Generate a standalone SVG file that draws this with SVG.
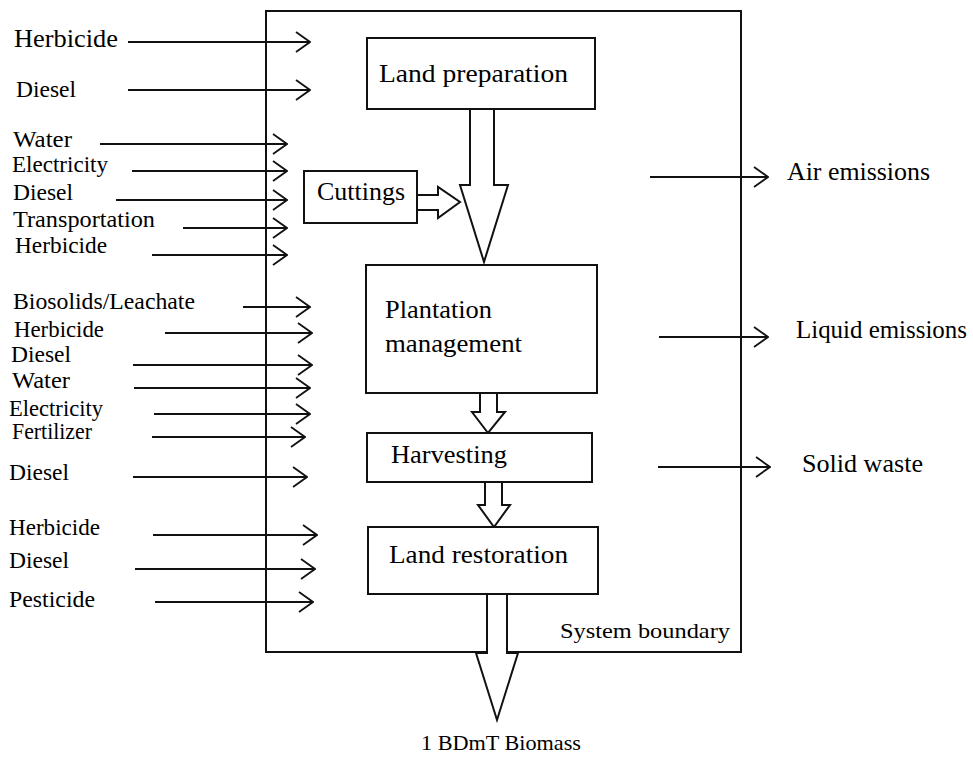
<svg xmlns="http://www.w3.org/2000/svg" width="973" height="757" viewBox="0 0 973 757">
<style>
text{font-family:"Liberation Serif","Times New Roman",serif;fill:#000}
.lbl{font-size:23px}
.box{fill:#fff;stroke:#111;stroke-width:2}
.big{fill:#fff;stroke:#111;stroke-width:2;stroke-linejoin:miter}
.ln{stroke:#111;stroke-width:2;fill:none;marker-end:url(#chev)}
.bt{font-size:26px}
.out{font-size:25px}
</style>
<defs>
<marker id="chev" viewBox="0 0 16 22" refX="15" refY="11" markerWidth="16" markerHeight="22" markerUnits="userSpaceOnUse" orient="auto">
<path d="M1,1 L15,11 L1,21" fill="none" stroke="#111" stroke-width="1.8"/>
</marker>
</defs>
<rect width="973" height="757" fill="#fff"/>
<g id="system-boundary">
<rect x="266" y="11" width="475" height="641" fill="none" stroke="#111" stroke-width="2"/>
<text x="560" y="638" font-size="22" textLength="170" lengthAdjust="spacingAndGlyphs">System boundary</text>
</g>
<g id="inputs">
<text class="lbl" x="14" y="47" font-size="25" style="font-size:25px" textLength="104" lengthAdjust="spacingAndGlyphs">Herbicide</text>
<text class="lbl" x="16" y="97" textLength="60" lengthAdjust="spacingAndGlyphs">Diesel</text>
<text class="lbl" x="13" y="147" textLength="59" lengthAdjust="spacingAndGlyphs">Water</text>
<text class="lbl" x="12" y="172" textLength="96" lengthAdjust="spacingAndGlyphs">Electricity</text>
<text class="lbl" x="13" y="200" textLength="60" lengthAdjust="spacingAndGlyphs">Diesel</text>
<text class="lbl" x="13" y="227" textLength="142" lengthAdjust="spacingAndGlyphs">Transportation</text>
<text class="lbl" x="15" y="253" textLength="92" lengthAdjust="spacingAndGlyphs">Herbicide</text>
<text class="lbl" x="13" y="309" textLength="182" lengthAdjust="spacingAndGlyphs">Biosolids/Leachate</text>
<text class="lbl" x="14" y="337" textLength="90" lengthAdjust="spacingAndGlyphs">Herbicide</text>
<text class="lbl" x="11" y="362" textLength="60" lengthAdjust="spacingAndGlyphs">Diesel</text>
<text class="lbl" x="12" y="388" textLength="58" lengthAdjust="spacingAndGlyphs">Water</text>
<text class="lbl" x="9" y="416" textLength="94" lengthAdjust="spacingAndGlyphs">Electricity</text>
<text class="lbl" x="12" y="439" textLength="80" lengthAdjust="spacingAndGlyphs">Fertilizer</text>
<text class="lbl" x="9" y="480" textLength="60" lengthAdjust="spacingAndGlyphs">Diesel</text>
<text class="lbl" x="9" y="535" textLength="91" lengthAdjust="spacingAndGlyphs">Herbicide</text>
<text class="lbl" x="9" y="568" textLength="60" lengthAdjust="spacingAndGlyphs">Diesel</text>
<text class="lbl" x="9" y="607" textLength="86" lengthAdjust="spacingAndGlyphs">Pesticide</text>
</g>
<g id="outputs">
<text class="out" x="787" y="180" textLength="143" lengthAdjust="spacingAndGlyphs">Air emissions</text>
<text class="out" x="796" y="338" textLength="171" lengthAdjust="spacingAndGlyphs">Liquid emissions</text>
<text class="out" x="802" y="472" textLength="121" lengthAdjust="spacingAndGlyphs">Solid waste</text>
<text x="421" y="750" font-size="22" textLength="160" lengthAdjust="spacingAndGlyphs">1 BDmT Biomass</text>
</g>
<g id="connectors">
<line class="ln" x1="128" y1="42" x2="310" y2="42"/>
<line class="ln" x1="128" y1="90" x2="310" y2="90"/>
<line class="ln" x1="100" y1="144" x2="287" y2="144"/>
<line class="ln" x1="132" y1="171" x2="287" y2="171"/>
<line class="ln" x1="116" y1="200" x2="287" y2="200"/>
<line class="ln" x1="183" y1="228" x2="287" y2="228"/>
<line class="ln" x1="152" y1="255" x2="287" y2="255"/>
<line class="ln" x1="243" y1="307" x2="310" y2="307"/>
<line class="ln" x1="165" y1="333" x2="312" y2="333"/>
<line class="ln" x1="133" y1="365" x2="312" y2="365"/>
<line class="ln" x1="134" y1="388" x2="310" y2="388"/>
<line class="ln" x1="154" y1="414" x2="310" y2="414"/>
<line class="ln" x1="152" y1="437" x2="305" y2="437"/>
<line class="ln" x1="133" y1="477" x2="307" y2="477"/>
<line class="ln" x1="153" y1="535" x2="317" y2="535"/>
<line class="ln" x1="135" y1="569" x2="315" y2="569"/>
<line class="ln" x1="155" y1="602" x2="313" y2="602"/>
<line class="ln" x1="650" y1="177" x2="768" y2="177"/>
<line class="ln" x1="659" y1="337" x2="768" y2="337"/>
<line class="ln" x1="658" y1="467" x2="770" y2="467"/>
<polygon class="big" points="470,109 494,109 494,185 508,185 484,262 460,185 470,185"/>
<polygon class="big" points="417,195 438,195 438,187 460,202 438,218 438,210 417,210"/>
<polygon class="big" points="480,393 497,393 497,412 505,412 488,433 472,412 480,412"/>
<polygon class="big" points="485,482 502,482 502,505 510,505 494,527 478,505 485,505"/>
<polygon class="big" points="487,594 507,594 507,653 518,653 497,720 476,653 487,653"/>
</g>
<g id="land-preparation">
<rect class="box" x="367" y="38" width="228" height="71"/>
<text class="bt" x="379" y="82" textLength="189" lengthAdjust="spacingAndGlyphs">Land preparation</text>
</g>
<g id="cuttings">
<rect class="box" x="304" y="171" width="113" height="52"/>
<text class="bt" x="317" y="200" textLength="88" lengthAdjust="spacingAndGlyphs">Cuttings</text>
</g>
<g id="plantation-management">
<rect class="box" x="366" y="265" width="231" height="128"/>
<text class="bt" x="385" y="318" textLength="107" lengthAdjust="spacingAndGlyphs">Plantation</text>
<text class="bt" x="385" y="352" textLength="137" lengthAdjust="spacingAndGlyphs">management</text>
</g>
<g id="harvesting">
<rect class="box" x="367" y="433" width="225" height="49"/>
<text class="bt" x="391" y="463" textLength="116" lengthAdjust="spacingAndGlyphs">Harvesting</text>
</g>
<g id="land-restoration">
<rect class="box" x="368" y="527" width="230" height="67"/>
<text class="bt" x="389" y="563" textLength="179" lengthAdjust="spacingAndGlyphs">Land restoration</text>
</g>
</svg>
